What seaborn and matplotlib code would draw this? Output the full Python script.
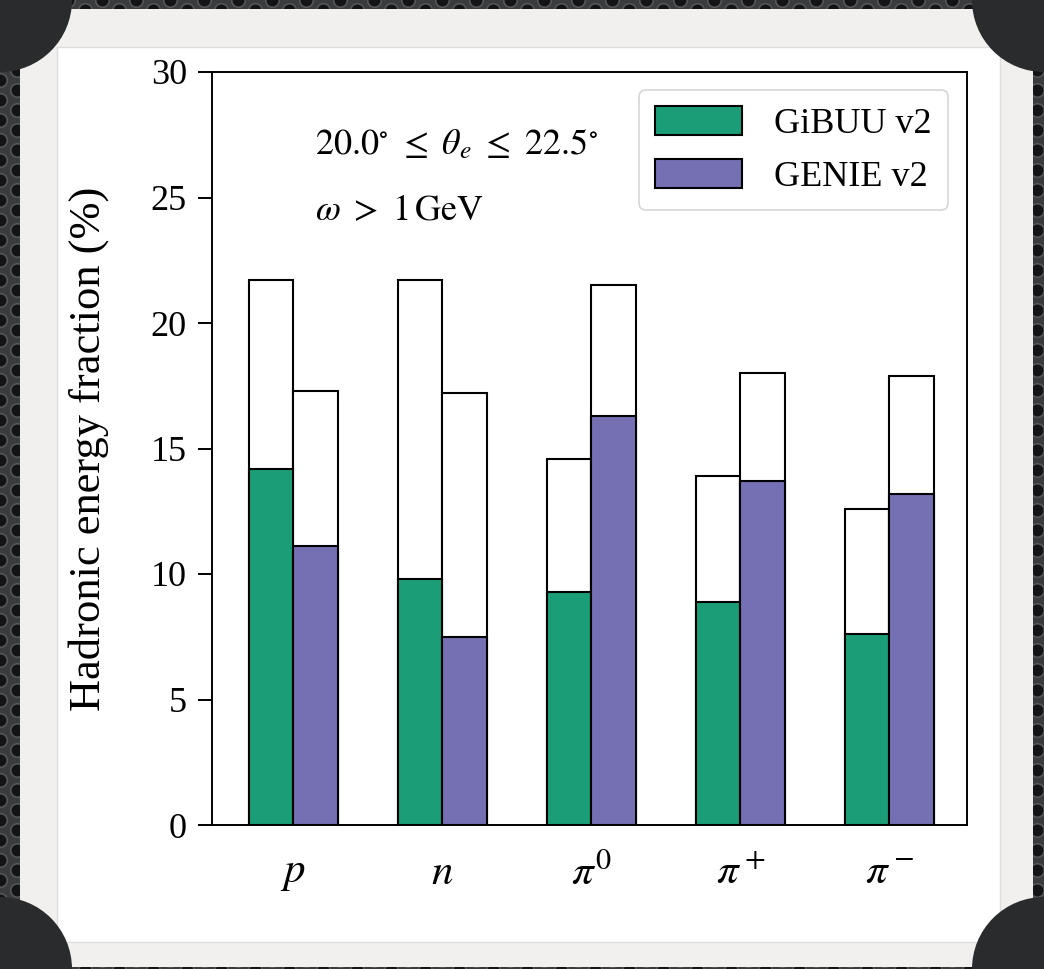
import numpy as np
import pandas as pd
import matplotlib
matplotlib.use('Agg')
import matplotlib.pyplot as plt
from matplotlib.patches import Rectangle, Circle
import seaborn as sns

# Values
particles = ['$p$', '$n$', r'$\pi^0$', r'$\pi^+$', r'$\pi^-$']
models = ['GiBUU v2', 'GENIE v2']
gibuu_frac = [14.2, 9.8, 9.3, 8.9, 7.6]
gibuu_total = [21.7, 21.7, 14.6, 13.9, 12.6]
genie_frac = [11.1, 7.5, 16.3, 13.7, 13.2]
genie_total = [17.3, 17.2, 21.5, 18.0, 17.9]
colors = ['#1b9e77', '#7570b3']

df = pd.DataFrame({
    'particle': particles * 2,
    'model': [models[0]] * 5 + [models[1]] * 5,
    'frac': gibuu_frac + genie_frac,
    'total': gibuu_total + genie_total,
})

sns.set_style('ticks')
plt.rcParams['font.family'] = ['Liberation Serif', 'DejaVu Serif']
plt.rcParams['mathtext.fontset'] = 'stix'
plt.rcParams['text.color'] = 'black'
plt.rcParams['axes.labelcolor'] = 'black'
plt.rcParams['xtick.color'] = 'black'
plt.rcParams['ytick.color'] = 'black'

W, H = 1044, 969
fig = plt.figure(figsize=(W / 100, H / 100), dpi=100)
fig.patch.set_facecolor('#3a3b3d')

# perforated dark background (decoration only)
bg = fig.add_axes([0, 0, 1, 1], zorder=-20)
bg.set_xlim(0, W)
bg.set_ylim(H, 0)
bg.axis('off')
gx, gy = np.meshgrid(np.arange(0, W + 20, 17.0), np.arange(0, H + 20, 20.0))
gy = gy + (np.arange(gx.shape[1]) % 2) * 10
bg.scatter(gx.ravel(), gy.ravel(), s=95, c='#141416', edgecolors='#55565a',
           linewidths=1.2)

# paper, white panel, dark rounded corners
fig.patches.append(Rectangle((20 / W, 1 - 967 / H), 1013 / W, 958 / H,
                             transform=fig.transFigure, facecolor='#f1f0ee',
                             edgecolor='none', zorder=-3))
fig.patches.append(Rectangle((57 / W, 1 - 942 / H), 943 / W, 895 / H,
                             transform=fig.transFigure, facecolor='white',
                             edgecolor='#dddddd', linewidth=1, zorder=-2))
for cx, cy in [(0, 0), (W, 0), (0, H), (W, H)]:
    fig.patches.append(Circle((cx, cy), 72, transform=None,
                              facecolor='#2a2b2d', edgecolor='none', zorder=-1))

ax = fig.add_axes([212 / W, 1 - 825 / H, 755 / W, 753 / H])
ax.set_facecolor('white')

# totals drawn as open bars, the fraction filled on top
sns.barplot(data=df, x='particle', y='total', hue='model', hue_order=models,
            palette=['white', 'white'], width=0.6, gap=0, edgecolor='black',
            linewidth=1.5, saturation=1, legend=False, ax=ax, zorder=2)
sns.barplot(data=df, x='particle', y='frac', hue='model', hue_order=models,
            palette=colors, width=0.6, gap=0, edgecolor='black',
            linewidth=1.5, saturation=1, ax=ax, zorder=3)

ax.set_ylim(0, 30)
ax.set_xlim(-0.545, 4.52)
ax.set_yticks(np.arange(0, 31, 5))
ax.set_xlabel('')
ax.set_ylabel('Hadronic energy fraction (%)', fontsize=32, labelpad=30)
ax.tick_params(axis='y', labelsize=26, length=10, width=1.4, pad=8,
               direction='out')
ax.tick_params(axis='x', labelsize=31, length=0, pad=21)
for s in ax.spines.values():
    s.set_visible(True)
    s.set_linewidth(1.4)
    s.set_color('black')

ax.text(0.136, 0.903, r'$20.0^{\circ}\ \leq\ \theta_e\ \leq\ 22.5^{\circ}$',
        transform=ax.transAxes, fontsize=26, va='center', ha='left')
ax.text(0.136, 0.814, r'$\omega\ >\ 1\,\mathrm{GeV}$',
        transform=ax.transAxes, fontsize=26, va='center', ha='left')

leg = ax.legend(loc='upper right', fontsize=26, handlelength=2.4,
                handleheight=0.85, frameon=True, fancybox=True,
                borderpad=0.45, labelspacing=0.5, handletextpad=0.9,
                borderaxespad=0, bbox_to_anchor=(0.975, 0.976))
leg.get_frame().set_edgecolor('#cccccc')
leg.get_frame().set_linewidth(1.2)
leg.set_title(None)

fig.savefig('out.png', dpi=100, facecolor=fig.get_facecolor())
